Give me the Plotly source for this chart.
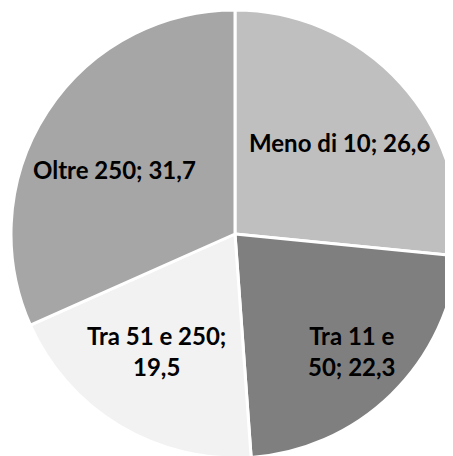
import math
import plotly.graph_objects as go

categories = ["Meno di 10", "Tra 11 e 50", "Tra 51 e 250", "Oltre 250"]
values = [26.6, 22.3, 19.5, 31.7]
value_labels = ["26,6", "22,3", "19,5", "31,7"]
label_texts = ["Meno di 10; 26,6", "Tra 11 e<br>50; 22,3", "Tra 51 e 250;<br>19,5", "Oltre 250; 31,7"]
colors = ["#bfbfbf", "#7f7f7f", "#f2f2f2", "#a6a6a6"]

W, H = 453, 456
# pie geometry in figure pixels
cx, cy, R = 227, 226, 224
# label placement (fraction of radius, angular nudge in degrees)
label_radius = [0.62, 0.74, 0.63, 0.61]
label_nudge = [1.0, -0.7, 2.8, -4.6]

fig = go.Figure(go.Pie(
    labels=categories,
    values=values,
    textinfo="none",
    sort=False,
    direction="clockwise",
    rotation=0,
    marker=dict(colors=colors, line=dict(color="white", width=3)),
    domain=dict(x=[(cx - R) / W, (cx + R) / W], y=[1 - (cy + R) / H, 1 - (cy - R) / H]),
    showlegend=False,
    hoverinfo="label+value",
))

total = sum(values)
cum = 0.0
annotations = []
for txt, v, f, d in zip(label_texts, values, label_radius, label_nudge):
    mid = (cum + v / 2) / total * 2 * math.pi + math.radians(d)
    cum += v
    px = cx + f * R * math.sin(mid)
    py = cy - f * R * math.cos(mid)
    annotations.append(dict(
        x=px / W, y=1 - py / H, xref="paper", yref="paper",
        text=txt, showarrow=False, xanchor="center", yanchor="middle",
        font=dict(family="Lato", size=24, color="black", weight="bold"),
        align="center",
    ))

fig.update_layout(
    width=W, height=H,
    margin=dict(l=0, r=0, t=0, b=0),
    paper_bgcolor="white",
    annotations=annotations,
)
fig.write_html("out.html")
